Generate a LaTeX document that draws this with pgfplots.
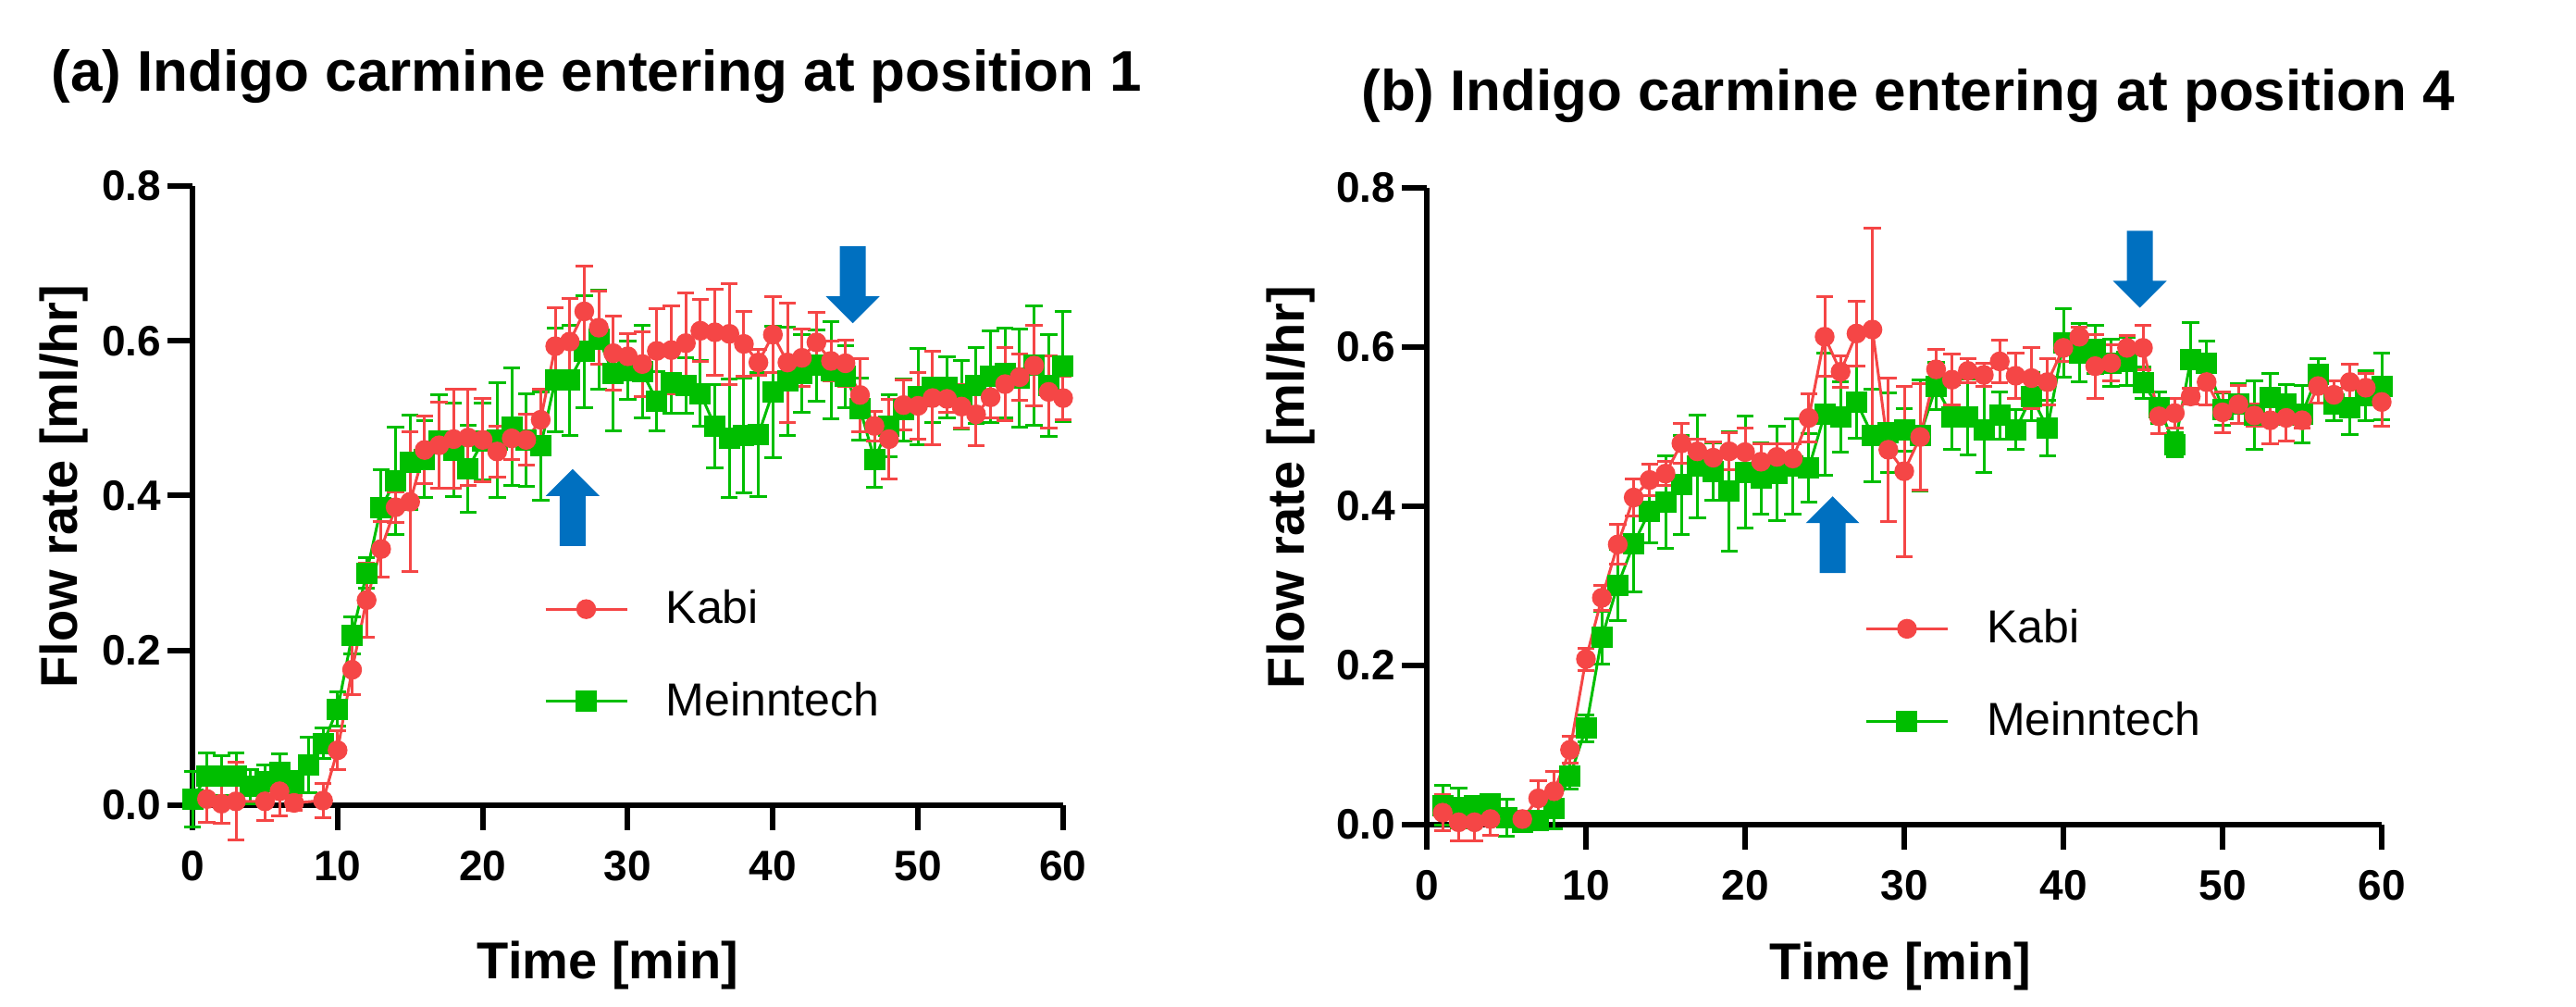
\documentclass[border=0pt]{standalone}
\usepackage{fontspec}
\setmainfont{Liberation Sans}
\usepackage{pgfplots}
\pgfplotsset{compat=1.18}
\usepackage{pgfplotstable}

\definecolor{kabi}{RGB}{245,70,70}
\definecolor{mein}{RGB}{0,190,0}
\definecolor{arrowblue}{RGB}{0,112,192}

% panel (a): Kabi
\pgfplotstableread{
t v e
1 0.008 0.030
2 0.002 0.025
3 0.005 0.050
5 0.005 0.025
6 0.018 0.032
7 0.003 0.010
9 0.006 0.022
10 0.071 0.025
11 0.175 0.032
12 0.265 0.048
13 0.331 0.036
14 0.385 0.020
15 0.392 0.090
16 0.459 0.044
17 0.465 0.056
18 0.473 0.064
19 0.475 0.062
20 0.472 0.054
21 0.457 0.033
22 0.474 0.027
23 0.472 0.033
24 0.498 0.039
25 0.593 0.050
26 0.599 0.056
27 0.638 0.059
28 0.617 0.047
29 0.584 0.048
30 0.580 0.029
31 0.570 0.042
32 0.587 0.054
33 0.588 0.057
34 0.597 0.065
35 0.613 0.040
36 0.611 0.056
37 0.609 0.065
38 0.596 0.042
39 0.572 0.017
40 0.608 0.049
41 0.572 0.077
42 0.578 0.037
43 0.598 0.039
44 0.574 0.026
45 0.571 0.030
46 0.530 0.047
47 0.490 0.019
48 0.473 0.051
49 0.517 0.032
50 0.516 0.043
51 0.526 0.060
52 0.525 0.017
53 0.515 0.028
54 0.505 0.040
55 0.527 0.027
56 0.544 0.047
57 0.553 0.030
58 0.568 0.052
59 0.534 0.047
60 0.526 0.028
}\kabiA

% panel (a): Meinntech
\pgfplotstableread{
t v e
0 0.008 0.036
1 0.038 0.030
2 0.038 0.026
3 0.038 0.030
4 0.024 0.022
5 0.030 0.022
6 0.042 0.024
7 0.028 0.016
8 0.052 0.036
9 0.080 0.020
10 0.124 0.022
11 0.219 0.024
12 0.300 0.020
13 0.385 0.048
14 0.419 0.069
15 0.443 0.061
16 0.447 0.050
17 0.470 0.060
18 0.459 0.060
19 0.435 0.056
20 0.470 0.050
21 0.472 0.074
22 0.489 0.076
23 0.472 0.060
24 0.464 0.070
25 0.549 0.067
26 0.549 0.071
27 0.586 0.072
28 0.602 0.064
29 0.558 0.074
30 0.562 0.038
31 0.560 0.060
32 0.522 0.038
33 0.546 0.040
34 0.542 0.036
35 0.532 0.042
36 0.490 0.054
37 0.474 0.077
38 0.478 0.074
39 0.479 0.080
40 0.534 0.085
41 0.548 0.070
42 0.558 0.050
43 0.568 0.046
44 0.562 0.063
45 0.554 0.040
46 0.512 0.040
47 0.447 0.036
48 0.490 0.040
49 0.511 0.040
50 0.528 0.062
51 0.540 0.046
52 0.540 0.039
53 0.530 0.044
54 0.542 0.049
55 0.554 0.059
56 0.558 0.058
57 0.552 0.063
58 0.568 0.077
59 0.542 0.066
60 0.567 0.071
}\meinA

% panel (b): Kabi
\pgfplotstableread{
t v e
1 0.015 0.023
2 0.003 0.023
3 0.003 0.023
4 0.007 0.020
6 0.007 0.010
7 0.033 0.022
8 0.042 0.025
9 0.094 0.017
10 0.208 0.014
11 0.285 0.016
12 0.352 0.025
13 0.411 0.023
14 0.433 0.020
15 0.441 0.015
16 0.479 0.025
17 0.469 0.015
18 0.461 0.020
19 0.469 0.023
20 0.468 0.030
21 0.456 0.023
22 0.462 0.017
23 0.460 0.018
24 0.511 0.030
25 0.613 0.050
26 0.569 0.020
27 0.617 0.041
28 0.622 0.127
29 0.471 0.090
30 0.444 0.107
31 0.487 0.067
32 0.572 0.025
33 0.559 0.032
34 0.570 0.015
35 0.565 0.015
36 0.582 0.027
37 0.564 0.029
38 0.561 0.038
39 0.556 0.029
40 0.599 0.017
41 0.613 0.012
42 0.576 0.040
43 0.580 0.023
44 0.599 0.015
45 0.599 0.028
46 0.513 0.022
47 0.517 0.019
48 0.538 0.010
49 0.556 0.029
50 0.518 0.026
51 0.528 0.024
52 0.514 0.014
53 0.508 0.029
54 0.511 0.029
55 0.508 0.010
56 0.551 0.021
57 0.540 0.018
58 0.556 0.023
59 0.549 0.018
60 0.531 0.031
}\kabiB

% panel (b): Meinntech
\pgfplotstableread{
t v e
1 0.024 0.025
2 0.021 0.025
3 0.024 0.010
4 0.026 0.012
5 0.009 0.023
6 0.003 0.010
7 0.005 0.010
8 0.020 0.025
9 0.061 0.016
10 0.121 0.017
11 0.235 0.033
12 0.301 0.045
13 0.353 0.060
14 0.394 0.040
15 0.405 0.058
16 0.427 0.062
17 0.450 0.065
18 0.444 0.036
19 0.419 0.075
20 0.443 0.070
21 0.435 0.045
22 0.441 0.059
23 0.450 0.060
24 0.448 0.043
25 0.516 0.077
26 0.512 0.044
27 0.531 0.045
28 0.489 0.058
29 0.492 0.050
30 0.496 0.027
31 0.489 0.070
32 0.551 0.030
33 0.512 0.041
34 0.512 0.048
35 0.496 0.054
36 0.514 0.030
37 0.496 0.025
38 0.538 0.030
39 0.498 0.035
40 0.605 0.043
41 0.593 0.037
42 0.597 0.030
43 0.580 0.030
44 0.582 0.030
45 0.555 0.020
46 0.524 0.020
47 0.477 0.015
48 0.584 0.047
49 0.580 0.027
50 0.522 0.020
51 0.529 0.025
52 0.514 0.043
53 0.537 0.030
54 0.528 0.025
55 0.516 0.036
56 0.566 0.020
57 0.528 0.020
58 0.524 0.034
59 0.539 0.031
60 0.551 0.042
}\meinB

\pgfplotsset{
  flowax/.style={
    scale only axis,
    xmin=0, xmax=60, ymin=0, ymax=0.8,
    xtick={0,10,...,60}, ytick={0,0.2,...,0.8},
    axis x line*=bottom, axis y line*=left,
    axis line style={line width=1.5pt},
    tick style={line width=1.5pt, black},
    major tick length=6.75pt,
    tick align=outside,
    clip=false,
    /pgf/number format/assume math mode=true,
    tick label style={font=\fontsize{11.5}{13}\selectfont\bfseries},
    yticklabel style={/pgf/number format/.cd, fixed, fixed zerofill, precision=1, /tikz/.cd, inner xsep=1.5pt},
    xticklabel style={inner ysep=5.5pt},
    label style={font=\fontsize{14}{16}\selectfont\bfseries},
    title style={font=\fontsize{15.5}{18}\selectfont\bfseries},
    xlabel={Time [min]}, ylabel={Flow rate [ml/hr]},
    legend style={draw=none, fill=none, inner sep=0pt,
      font=\fontsize{12.5}{14}\selectfont, row sep=10.4pt,
      cells={anchor=west},
      /tikz/every odd column/.append style={column sep=8.2pt}},
    legend image code/.code={\draw[mark repeat=2,mark phase=2,#1] plot coordinates {(0pt,0pt) (11pt,0pt) (22pt,0pt)};},
    reverse legend,
  },
  kstyle/.style={color=kabi, line width=0.75pt, mark=*, mark size=2.3pt,
    mark options={solid, fill=kabi, draw=kabi},
    error bars/.cd, y dir=both, y explicit,
    error bar style={line width=0.75pt, kabi},
    error mark=-,
    error mark options={rotate=90, line width=0.75pt, mark size=2.3pt, kabi}},
  mstyle/.style={color=mein, line width=0.75pt, mark=square*, mark size=2.5pt,
    mark options={solid, fill=mein, draw=mein},
    error bars/.cd, y dir=both, y explicit,
    error bar style={line width=0.75pt, mein},
    error mark=-,
    error mark options={rotate=90, line width=0.75pt, mark size=2.3pt, mein}},
}

\begin{document}
\begin{tikzpicture}
\useasboundingbox (0,0) rectangle (696pt,272pt);

% (a)
\begin{axis}[flowax,
  at={(52pt,54.5pt)}, anchor=south west,
  width=235.25pt, height=167.25pt,
  title={(a) Indigo carmine entering at position 1},
  title style={at={(rel axis cs:0.464,1.118)}, anchor=base},
  xlabel style={at={(rel axis cs:0.477,-0.281)}, anchor=base},
  ylabel style={at={(rel axis cs:-0.148,0.515)}, anchor=center},
  legend style={at={(rel axis cs:0.403,0.242)}, anchor=west},
]
\addplot[mstyle] table[x=t, y=v, y error=e] {\meinA};
\addplot[kstyle] table[x=t, y=v, y error=e] {\kabiA};
\legend{Meinntech, Kabi}
\coordinate (aup) at (axis cs:26.2,0.335);
\coordinate (adn) at (axis cs:45.5,0.722);
\end{axis}

% (b)
\begin{axis}[flowax,
  at={(385.5pt,49.25pt)}, anchor=south west,
  width=258pt, height=172pt,
  title={(b) Indigo carmine entering at position 4},
  title style={at={(rel axis cs:0.504,1.087)}, anchor=base},
  xlabel style={at={(rel axis cs:0.496,-0.243)}, anchor=base},
  ylabel style={at={(rel axis cs:-0.142,0.53)}, anchor=center},
  legend style={at={(rel axis cs:0.458,0.235)}, anchor=west},
]
\addplot[mstyle] table[x=t, y=v, y error=e] {\meinB};
\addplot[kstyle] table[x=t, y=v, y error=e] {\kabiB};
\legend{Meinntech, Kabi}
\coordinate (bup) at (axis cs:25.5,0.316);
\coordinate (bdn) at (axis cs:44.8,0.746);
\end{axis}

% blue arrows
\foreach \c in {aup,bup}{
  \fill[arrowblue] (\c) ++(-3.5pt,0pt) -- ++(0pt,13.5pt) -- ++(-3.75pt,0pt) -- ++(7.25pt,7.25pt) -- ++(7.25pt,-7.25pt) -- ++(-3.75pt,0pt) -- ++(0pt,-13.5pt) -- cycle;
}
\foreach \c in {adn,bdn}{
  \fill[arrowblue] (\c) ++(-3.5pt,0pt) -- ++(0pt,-13.5pt) -- ++(-3.75pt,0pt) -- ++(7.25pt,-7.25pt) -- ++(7.25pt,7.25pt) -- ++(-3.75pt,0pt) -- ++(0pt,13.5pt) -- cycle;
}
\end{tikzpicture}
\end{document}
